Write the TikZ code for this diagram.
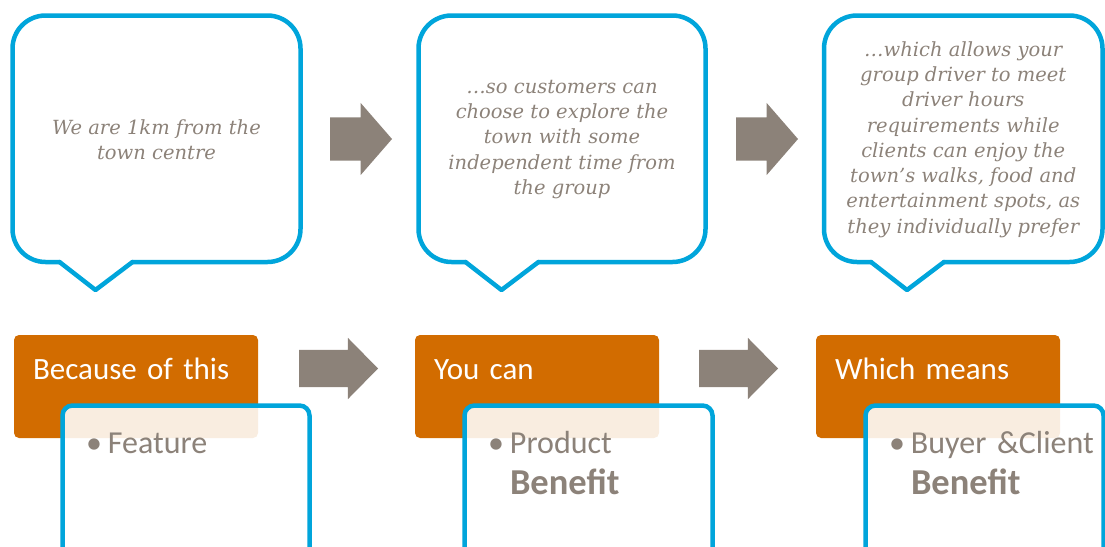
\documentclass[tikz,border=0pt]{standalone}
\usepackage{fontspec}
\setmainfont{Carlito}[WordSpace=0.75]
\newfontfamily\bubblefont{DejaVu Serif}
\usepackage{tikz}
\usetikzlibrary{shapes.arrows}
\definecolor{bubbleblue}{RGB}{0,165,219}
\definecolor{taupe}{RGB}{140,130,121}
\definecolor{rust}{RGB}{210,108,0}
\newcommand{\bul}{\makebox[22pt][l]{\textbullet}}
\newcommand{\benefitword}[1]{{\fontsize{36.5}{41}\selectfont\textbf{#1}}}
\tikzstyle{bubble}=[draw=bubbleblue,line width=4.5pt,line cap=round,line join=round]
\tikzstyle{bubble text}=[inner sep=0pt,align=center,text=taupe,font=\bubblefont\itshape\fontsize{19.5}{25.3}\selectfont]
\tikzstyle{big arrow}=[single arrow,fill=taupe,inner xsep=0pt,inner ysep=21.5pt,outer sep=0pt,anchor=tail,minimum height=62pt,single arrow head extend=14.5pt,single arrow tip angle=98]
\tikzstyle{small arrow}=[big arrow,inner ysep=18.5pt,minimum height=79pt,single arrow head extend=12pt,single arrow tip angle=91]
\tikzstyle{header}=[rectangle,rounded corners=5pt,fill=rust,text=white,anchor=north west,outer sep=0pt,inner xsep=19pt,inner ysep=0pt,text width=206pt,align=left,text height=44pt,text depth=59pt,font=\fontsize{31}{35}\selectfont]
\tikzstyle{detail}=[rectangle,rounded corners=10pt,draw=bubbleblue,line width=4.5pt,fill=white,fill opacity=0.88,text opacity=1,text=taupe,anchor=north west,outer sep=0pt,inner xsep=23.5pt,inner ysep=0pt,align=left,text height=47.5pt,text depth=170pt,font=\fontsize{32}{41}\selectfont]

\begin{document}
\begin{tikzpicture}[x=1pt,y=-1pt]
  \useasboundingbox (0,0) rectangle (1105,546);
  \clip (0,0) rectangle (1105,546);
    % First we draw the speech bubbles
    \foreach \x/\w/\name/\txt in {
          12.5/288/fact/{We are 1km from the\\town centre},
          418.5/287/gain/{…so customers can\\choose to explore the\\town with some\\independent time from\\the group},
          824/278.5/value/{…which allows your\\group driver to meet\\driver hours\\requirements while\\clients can enjoy the\\town’s walks, food and\\entertainment spots, as\\they individually prefer}}{
        \node[bubble text] (\name) at (\x+\w/2,139.5) {\txt};
        \draw[bubble,rounded corners=33pt] (\x+120,262) -- (\x+\w,262) -- (\x+\w,15.5)
            -- (\x,15.5) -- (\x,262) -- (\x+47,262);
        \draw[bubble] (\x+47,262) -- (\x+83,290) -- (\x+120,262);
    }
    % Arrows between the bubbles and between the boxes
    \node[big arrow] (a1) at (330,139) {};
    \node[big arrow] (a2) at (736,139) {};
    \node[small arrow] (b1) at (299,368.5) {};
    \node[small arrow] (b2) at (699,368.5) {};
    % Orange headers
    \foreach \pos/\name/\txt in {{(14,335)/because/Because of this},{(415,335)/youcan/You can},
                                 {(816,335)/means/Which means}}
        \node[header] (\name) at \pos {\txt};
    % Blue boxes laid over the headers
    \foreach \pos/\w/\name/\txt in {
          {(62.5,405.5)}/247/feature/{\bul Feature},
          {(464.5,405.5)}/248/product/{\bul Product\\\hspace*{22pt}\benefitword{Benefit}},
          {(865.5,405.5)}/238/client/{\mbox{\bul Buyer \&Client}\\\hspace*{22pt}\benefitword{Benefit}}}{
        \pgfmathsetmacro{\tw}{\w-47}
        \node[detail,text width=\tw pt] (\name) at \pos {\txt};
    }
\end{tikzpicture}
\end{document}
